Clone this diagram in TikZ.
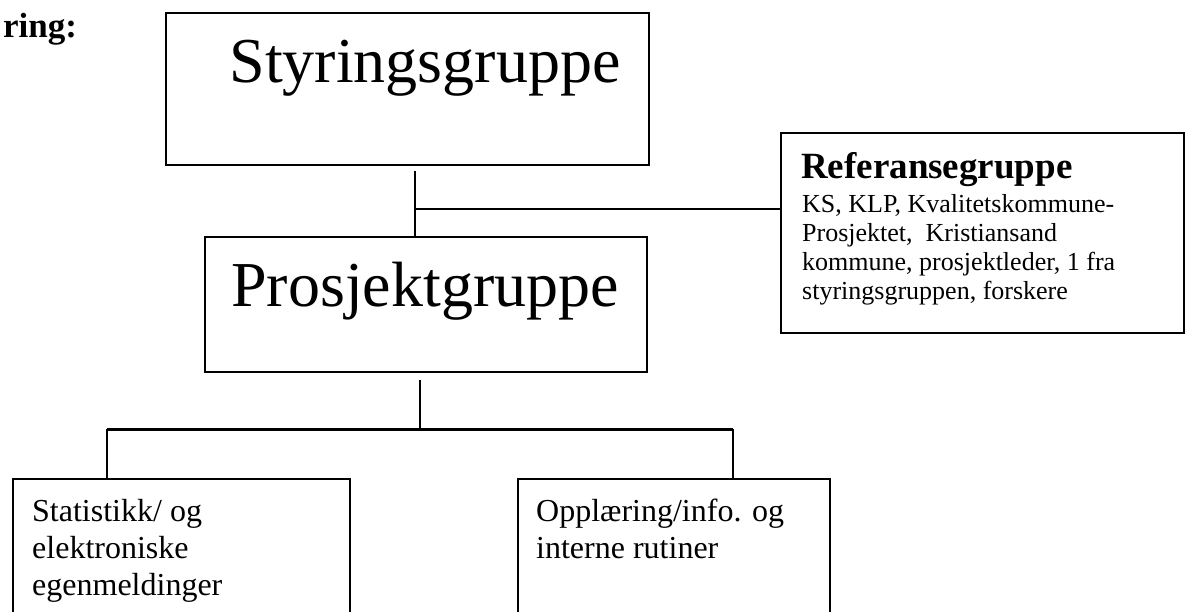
\documentclass[tikz,border=0pt]{standalone}
\usepackage{fontspec}
\setmainfont{Liberation Serif}
\usetikzlibrary{positioning}

\begin{document}
\begin{tikzpicture}[x=1pt, y=-1pt, every node/.style={inner sep=0pt}]
\tikzstyle{box}=[draw, line width=1.6pt, rectangle, anchor=north west]
\tikzstyle{link}=[line width=1.4pt]
\useasboundingbox (0,0) rectangle (1189,611);
\clip (0,0) rectangle (1189,611);
\node[anchor=base west, font=\fontsize{35}{40}\selectfont\bfseries] (title) at (3,37) {ring:};
\node[box, minimum width=483pt, minimum height=152pt] (styr) at (165,12) {};
\node[anchor=base, font=\fontsize{64}{70}\selectfont] (styrtxt) at (425,82) {Styringsgruppe};
\node[box, minimum width=442pt, minimum height=135pt] (pros) at (204,236) {};
\node[anchor=base, font=\fontsize{64}{70}\selectfont] (prostxt) at (425,306) {Prosjektgruppe};
\node[box, minimum width=403pt, minimum height=200pt] (ref) at (780,132) {};
\node[anchor=base west, font=\fontsize{37}{42}\selectfont\bfseries] (reftxt) at (801,178) {Referansegruppe};
\node[anchor=north west, align=left, font=\fontsize{26}{29}\selectfont] (refsub) at (802,194)
  {KS, KLP, Kvalitetskommune-\\Prosjektet,\ \ Kristiansand\\kommune, prosjektleder, 1 fra\\styringsgruppen, forskere};
\node[box, minimum width=337pt, minimum height=180pt] (stat) at (12,478) {};
\node[anchor=north west, align=left, font=\fontsize{32}{37}\selectfont] (stattxt) at (32,499)
  {Statistikk/ og\\elektroniske\\egenmeldinger};
\node[box, minimum width=312pt, minimum height=180pt] (oppl) at (517,478) {};
\node[anchor=north west, align=left, font=\fontsize{32}{37}\selectfont] (oppltxt) at (536,499)
  {Opplæring/info. og\\interne rutiner};
% connectors
\coordinate (styrdown) at (415,171);
\coordinate (refjoin) at (415,209);
\coordinate (prosdown) at (420,380);
\coordinate (split) at (420,429);
\coordinate (splitl) at (107,429);
\coordinate (splitr) at (733,429);
\draw[link] (styrdown) -- (styrdown |- pros.north);
\draw[link] (refjoin) -- (refjoin -| ref.west);
\draw[link] (prosdown) -- (split);
\draw[line width=3pt] (splitl) -- (splitr);
\draw[link] (splitl) -- (splitl |- stat.north);
\draw[link] (splitr) -- (splitr |- oppl.north);
\end{tikzpicture}
\end{document}
